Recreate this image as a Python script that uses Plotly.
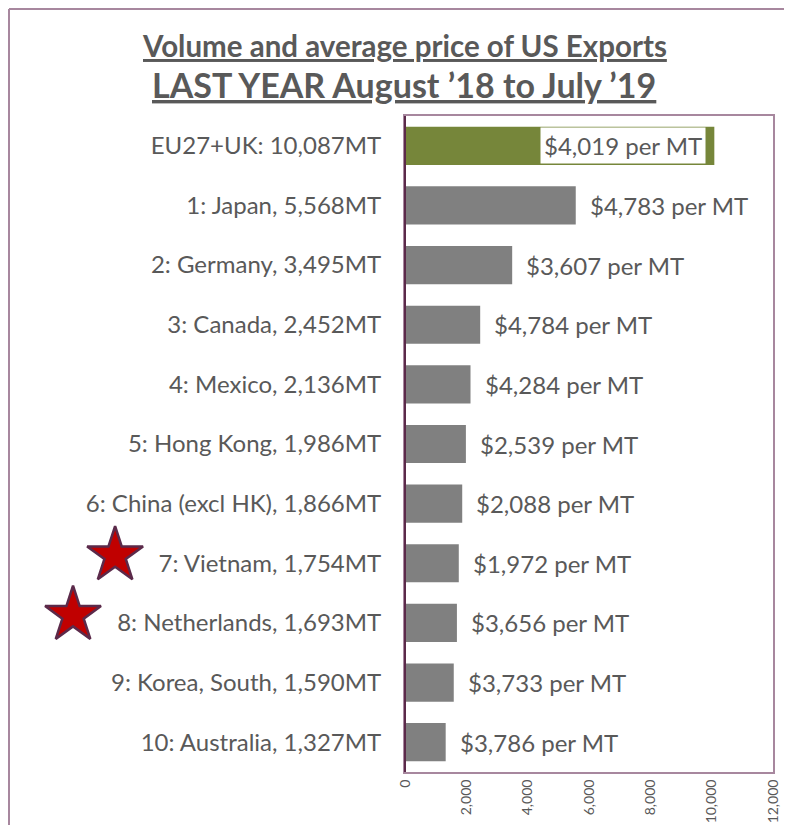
import plotly.graph_objects as go

# ---- data ----
categories = [
    "EU27+UK: 10,087MT", "1: Japan, 5,568MT", "2: Germany, 3,495MT", "3: Canada, 2,452MT",
    "4: Mexico, 2,136MT", "5: Hong Kong, 1,986MT", "6: China (excl HK), 1,866MT",
    "7: Vietnam, 1,754MT", "8: Netherlands, 1,693MT", "9: Korea, South, 1,590MT",
    "10: Australia, 1,327MT",
]
volumes = [10087, 5568, 3495, 2452, 2136, 1986, 1866, 1754, 1693, 1590, 1327]
prices = [4019, 4783, 3607, 4784, 4284, 2539, 2088, 1972, 3656, 3733, 3786]
starred = ["7: Vietnam, 1,754MT", "8: Netherlands, 1,693MT"]
star_pos = [0.140, 0.085]          # horizontal position of stars on the overlay axis (0..1)
tick_vals = [0, 2000, 4000, 6000, 8000, 10000, 12000]

# page has an 8px body margin, so the figure is a little smaller than the window
OFF = 8
Wf, Hf = 776, 817
PL, PR, PT, PB = 405, 773, 116, 772          # plot area in page pixels
L = 0
R = Wf + OFF - PR
T = PT - OFF
B = Hf + OFF - PB
plot_w = Wf - L - R
plot_h = Hf - T - B

def px(page_x):
    return (page_x - OFF - L) / plot_w

def py(page_y):
    return (Hf - B - (page_y - OFF)) / plot_h

grey_txt = "#595959"
font_fam = "Lato, 'Open Sans', sans-serif"
frame_col = "#A7879E"

colors = ["#76863A"] + ["#808080"] * (len(categories) - 1)
order = categories[::-1]
star_rows = [order.index(s) + 0.13 for s in starred]   # stars sit slightly above row centre

fig = go.Figure()
fig.add_trace(go.Bar(
    y=categories, x=volumes, orientation="h",
    marker=dict(color=colors, line=dict(width=0)),
    showlegend=False, hoverinfo="x+y", xaxis="x", yaxis="y",
))
fig.add_trace(go.Scatter(
    y=star_rows, x=star_pos, mode="markers", xaxis="x2", yaxis="y2",
    marker=dict(symbol="star", size=42, color="#C00000",
                line=dict(color="#5B2A4A", width=2.5)),
    cliponaxis=False, showlegend=False, hoverinfo="skip",
))

annotations = []
for i, (c, v, p) in enumerate(zip(categories, volumes, prices)):
    txt = f"${p:,} per MT"
    if i == 0:
        annotations.append(dict(x=v, y=c, xref="x", yref="y", text=txt, showarrow=False,
                                xanchor="right", xshift=-8, bgcolor="white",
                                borderpad=3, font=dict(size=24, color=grey_txt, family=font_fam)))
    else:
        annotations.append(dict(x=v, y=c, xref="x", yref="y", text=txt, showarrow=False,
                                xanchor="left", xshift=12,
                                font=dict(size=24, color=grey_txt, family=font_fam)))

annotations.append(dict(x=px(404), y=py(45), xref="paper", yref="paper",
                        text="<b><u>Volume and average price of US Exports</u></b>",
                        showarrow=False, xanchor="center", yanchor="middle",
                        font=dict(size=29.5, color=grey_txt, family=font_fam)))
annotations.append(dict(x=px(404), y=py(85), xref="paper", yref="paper",
                        text="<b><u>LAST YEAR August \u201918 to July \u201919</u></b>",
                        showarrow=False, xanchor="center", yanchor="middle",
                        font=dict(size=34, color=grey_txt, family=font_fam)))

shapes = [
    dict(type="line", xref="paper", yref="paper", x0=px(9), x1=px(9), y0=py(9), y1=py(900),
         line=dict(color=frame_col, width=2)),
    dict(type="line", xref="paper", yref="paper", x0=px(9), x1=px(900), y0=py(9), y1=py(9),
         line=dict(color=frame_col, width=2)),
    dict(type="line", xref="paper", yref="paper", x0=px(PL), x1=px(PL), y0=0, y1=1,
         line=dict(color="#5B2A4A", width=2)),
]

fig.update_layout(
    width=Wf, height=Hf,
    margin=dict(l=L, r=R, t=T, b=B, autoexpand=False),
    paper_bgcolor="white", plot_bgcolor="rgba(0,0,0,0)",
    bargap=0.36,
    annotations=annotations, shapes=shapes,
    font=dict(family=font_fam, color=grey_txt),
    xaxis=dict(domain=[px(PL), 1], range=[0, 12000], tickvals=tick_vals, tickformat=",",
               tickangle=-90, showgrid=False, zeroline=False, showline=True, mirror=True,
               linecolor=frame_col, linewidth=2, ticks="", anchor="y",
               tickfont=dict(size=14, color=grey_txt, family=font_fam)),
    xaxis2=dict(domain=[0, 1], range=[0, 1], visible=False, anchor="y2", fixedrange=True),
    yaxis=dict(categoryorder="array", categoryarray=order, anchor="x",
               showgrid=False, zeroline=False, showline=True, mirror=True,
               linecolor=frame_col, linewidth=2, ticks="", ticklabelstandoff=17,
               tickfont=dict(size=24, color=grey_txt, family=font_fam)),
    yaxis2=dict(domain=[0, 1], range=[-0.5, len(categories) - 0.5], visible=False,
                anchor="x2", fixedrange=True),
)

fig.write_html("out.html")
